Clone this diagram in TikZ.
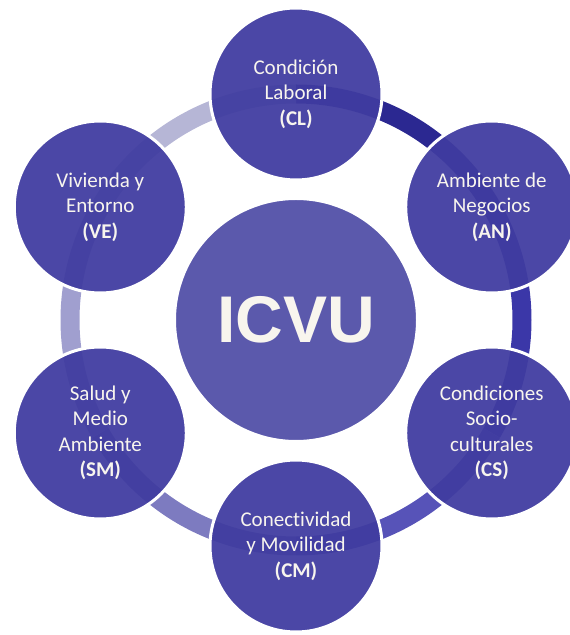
\documentclass[tikz,border=0pt]{standalone}
\usepackage{fontspec}
\setmainfont{Carlito}[Ligatures=NoCommon]
\newfontfamily\icvufont{Liberation Sans}
\definecolor{outerfill}{RGB}{64,60,160}
\definecolor{centerfill}{RGB}{91,89,172}
\definecolor{labeltext}{RGB}{248,245,238}
\definecolor{segA}{RGB}{43,40,145}
\definecolor{segB}{RGB}{59,55,168}
\definecolor{segC}{RGB}{87,83,184}
\definecolor{segD}{RGB}{125,123,192}
\definecolor{segE}{RGB}{160,159,207}
\definecolor{segF}{RGB}{182,182,214}
\tikzset{
  outerbubble/.style={circle, minimum size=172pt, inner sep=0pt, fill=outerfill,
    fill opacity=0.94, text opacity=1, draw=white, line width=3pt, text=labeltext,
    align=center, font=\fontsize{21}{25.5}\selectfont},
  centerbubble/.style={circle, minimum size=242pt, inner sep=0pt, fill=centerfill,
    draw=white, line width=2pt, text=labeltext, font=\icvufont\bfseries\fontsize{66}{70}\selectfont},
  ringseg/.style={line width=19pt}
}
\begin{document}
\begin{tikzpicture}[x=1pt,y=1pt]
\useasboundingbox (0,0) rectangle (570,635);
\clip (0,0) rectangle (570,635);
\coordinate (C) at (296,315);
% ring segments
\foreach \a/\col in {90/segA,30/segB,-30/segC,-90/segD,-150/segE,150/segF}{
  \draw[ringseg, color=\col] ([shift={(\a:226)}]C) arc[start angle=\a, end angle=\a-60, radius=226];
}
\node[centerbubble] (ICVU) at (C) {ICVU};
\node[outerbubble] (CL) at ([shift={(90:226)}]C) {Condición\\Laboral\\\textbf{(CL)}};
\node[outerbubble] (AN) at ([shift={(30:226)}]C) {Ambiente de\\Negocios\\\textbf{(AN)}};
\node[outerbubble] (CS) at ([shift={(-30:226)}]C) {Condiciones\\Socio-\\culturales\\\textbf{(CS)}};
\node[outerbubble] (CM) at ([shift={(-90:226)}]C) {Conectividad\\y Movilidad\\\textbf{(CM)}};
\node[outerbubble] (SM) at ([shift={(-150:226)}]C) {Salud y\\Medio\\Ambiente\\\textbf{(SM)}};
\node[outerbubble] (VE) at ([shift={(150:226)}]C) {Vivienda y\\Entorno\\\textbf{(VE)}};
\end{tikzpicture}
\end{document}
